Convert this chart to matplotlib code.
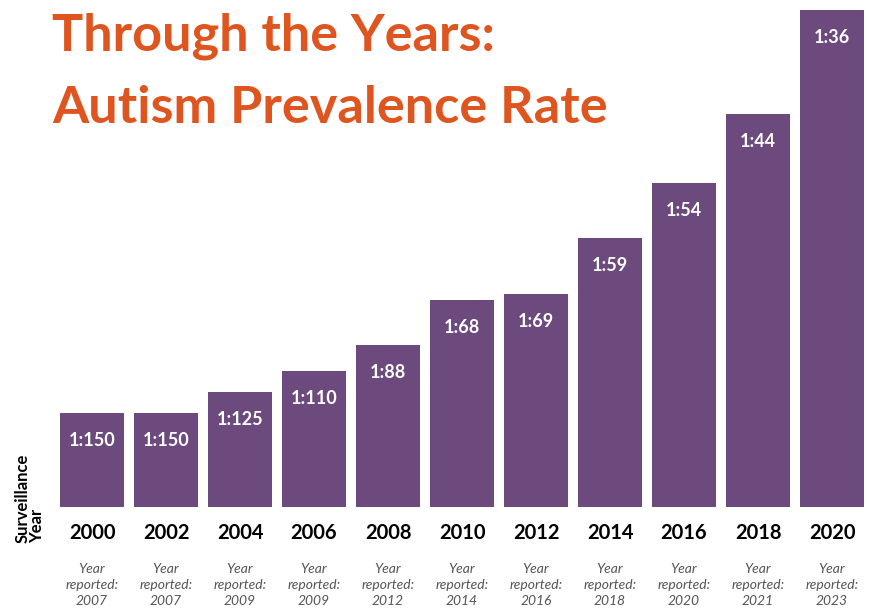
import matplotlib
matplotlib.use("Agg")
from matplotlib import pyplot as plt

# surveillance years and bar heights (arbitrary units)
years = ["2000", "2002", "2004", "2006", "2008", "2010", "2012", "2014", "2016", "2018", "2020"]
heights = [94, 94, 115, 136, 162, 207, 213, 269, 324, 393, 497]
rates = ["1:150", "1:150", "1:125", "1:110", "1:88", "1:68", "1:69", "1:59", "1:54", "1:44", "1:36"]
reported = ["2007", "2007", "2009", "2009", "2012", "2014", "2016", "2018", "2020", "2021", "2023"]

PURPLE = "#6d4a7d"
ORANGE = "#de551f"

plt.rcParams["font.family"] = ["Lato", "DejaVu Sans"]


def main():
    fig = plt.figure(figsize=(8.71, 6.10), dpi=100)
    W, H = 871, 610

    # axes placed in pixel coordinates: bars sit on y=507
    ax = fig.add_axes([47.6 / W, (H - 507) / H, 821.4 / W, 507 / H])
    x = list(range(len(years)))
    ax.bar(x, heights, width=0.865, color=PURPLE)
    ax.set_xlim(-0.6, 10.5)
    ax.set_ylim(0, 507)
    ax.axis("off")

    for xi, h, r, yr, rep in zip(x, heights, rates, years, reported):
        ax.annotate(r, (xi, h), xytext=(0, -20), textcoords="offset points",
                    ha="center", va="center", color="white",
                    fontsize=13, fontweight="bold")
        ax.annotate(yr, (xi, 0), xytext=(0, -19), textcoords="offset points",
                    ha="center", va="center", color="black",
                    fontsize=14.5, fontweight="bold", annotation_clip=False)
        ax.annotate(f"Year\nreported:\n{rep}", (xi, 0), xytext=(0, -56), textcoords="offset points",
                    ha="center", va="center", color="#555555", fontsize=10,
                    style="italic", linespacing=1.4, annotation_clip=False)

    fig.text(30 / W, 1 - 498 / H, "Surveillance\nYear", rotation=90, ha="center", va="center",
             fontsize=12, fontweight="bold", multialignment="left", linespacing=0.85)

    fig.text(52 / W, 1 - 50 / H, "Through the Years:", color=ORANGE, fontsize=37.6,
             fontweight="bold", ha="left", va="baseline")
    fig.text(52 / W, 1 - 123 / H, "Autism Prevalence Rate", color=ORANGE, fontsize=37.6,
             fontweight="bold", ha="left", va="baseline")

    fig.savefig("out.png", dpi=100)


if __name__ == "__main__":
    main()
